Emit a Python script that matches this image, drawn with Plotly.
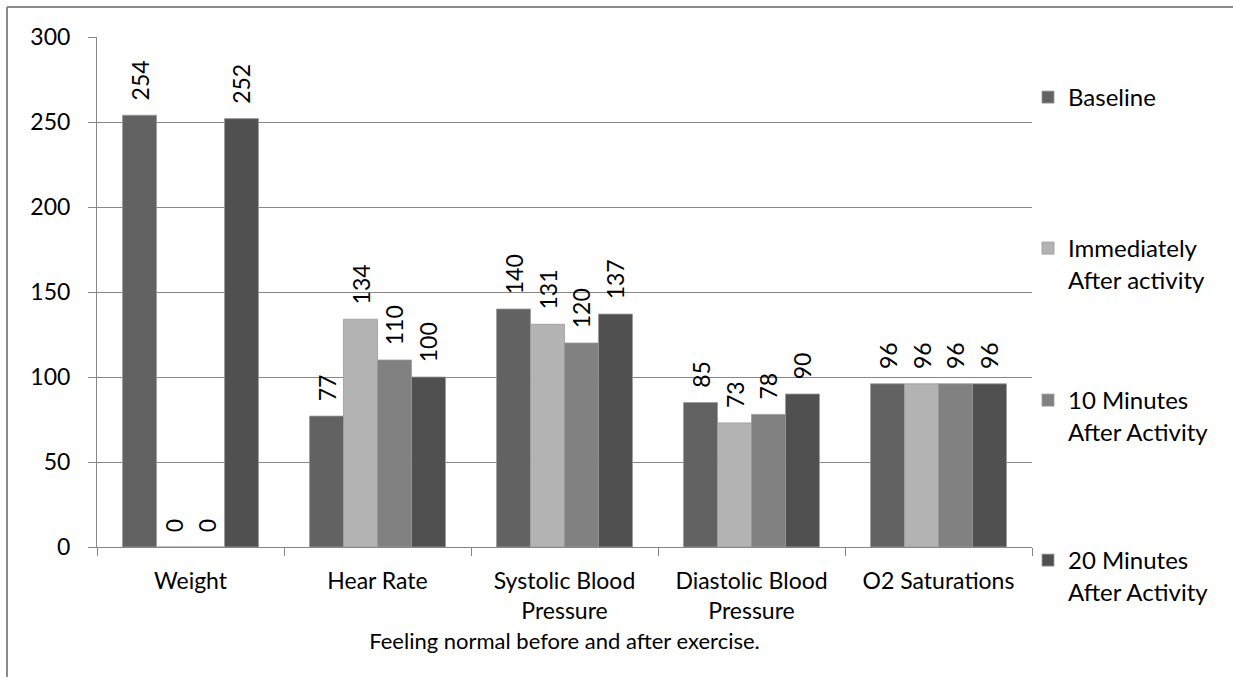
import plotly.graph_objects as go

categories = ["Weight", "Hear Rate", "Systolic Blood<br>Pressure", "Diastolic Blood<br>Pressure", "O2 Saturations"]
series_names = ["Baseline", "Immediately<br>After activity", "10 Minutes<br>After Activity", "20 Minutes<br>After Activity"]
baseline = [254, 77, 140, 85, 96]
immediately = [0, 134, 131, 73, 96]
ten_min = [0, 110, 120, 78, 96]
twenty_min = [252, 100, 137, 90, 96]
y_ticks = [0, 50, 100, 150, 200, 250, 300]
x_title = "Feeling normal before and after exercise."

colors = ["#626262", "#b3b3b3", "#818181", "#505050"]
all_values = [baseline, immediately, ten_min, twenty_min]

W, H = 1233, 677
L, R, T, B = 97, 1032, 37, 547

def px_x(p):
    return (p - L) / (R - L)

def px_y(p):
    return (B - p) / (B - T)

FONT = "Lato, 'Open Sans', sans-serif"
FS = 23

fig = go.Figure()
legend_ids = ["legend", "legend2", "legend3", "legend4"]
legend_tops = [75, 226, 378, 538]
for name, vals, col, lg in zip(series_names, all_values, colors, legend_ids):
    fig.add_trace(go.Bar(
        x=categories, y=vals, name=name,
        marker=dict(color=col, line=dict(color="#9a9a9a", width=0.8)),
        text=vals, texttemplate="\u00a0\u00a0%{y}",
        textposition="outside", textangle=-90,
        textfont=dict(family=FONT, size=FS, color="black"),
        cliponaxis=False, legend=lg,
    ))

layout_legends = {}
for lg, top in zip(legend_ids, legend_tops):
    layout_legends[lg] = dict(
        x=px_x(1028), xanchor="left", y=px_y(top), yanchor="top",
        font=dict(family=FONT, size=24, color="black"),
        valign="top", bgcolor="rgba(0,0,0,0)", itemclick=False,
    )

GRID = "#878787"
fig.update_layout(
    width=W, height=H,
    margin=dict(l=L, r=W - R, t=T, b=H - B, pad=0),
    paper_bgcolor="white", plot_bgcolor="white",
    barmode="group", bargap=0.273, bargroupgap=0,
    font=dict(family=FONT, size=FS, color="black"),
    showlegend=True,
    uniformtext=dict(mode="show", minsize=FS),
    **layout_legends,
)
fig.update_yaxes(
    range=[0, 300], tickvals=y_ticks, showgrid=True, gridcolor=GRID, gridwidth=1,
    showline=True, linecolor=GRID, linewidth=1, ticks="outside", ticklen=8,
    tickcolor=GRID, ticklabelstandoff=13, zeroline=False,
    tickfont=dict(family=FONT, size=FS, color="black"),
)
fig.update_xaxes(
    showline=True, linecolor=GRID, linewidth=1, ticks="outside", ticklen=8,
    tickcolor=GRID, tickson="boundaries", ticklabelstandoff=13, showgrid=False,
    tickfont=dict(family=FONT, size=FS, color="black"),
    title=dict(text=x_title, standoff=11, font=dict(family=FONT, size=22, color="black")),
)

# outer chart frame (partially cropped)
fig.add_shape(type="line", xref="paper", yref="paper",
              x0=px_x(7), x1=px_x(W + 5), y0=px_y(7), y1=px_y(7),
              line=dict(color="#8a8a8a", width=2))
fig.add_shape(type="line", xref="paper", yref="paper",
              x0=px_x(7), x1=px_x(7), y0=px_y(7), y1=px_y(H + 5),
              line=dict(color="#8a8a8a", width=2))

fig.write_html("out.html")
